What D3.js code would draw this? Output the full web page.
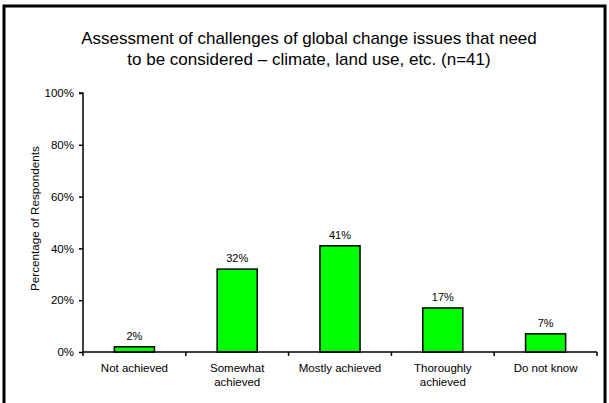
<!DOCTYPE html>
<html>
<head>
<meta charset="utf-8">
<script src="https://cdn.jsdelivr.net/npm/d3@7"></script>
<style>
  html, body { margin: 0; padding: 0; background: #fff; }
  svg { display: block; }
  text { font-family: "Liberation Sans", Arial, sans-serif; fill: #000; }
</style>
</head>
<body>
<svg id="chart" width="609" height="403"></svg>
<script>
// Survey responses, share of respondents per answer
const categories = [
  ["Not achieved"],
  ["Somewhat", "achieved"],
  ["Mostly achieved"],
  ["Thoroughly", "achieved"],
  ["Do not know"]
];
const values = [2, 32, 41, 17, 7];
const yTicks = [0, 20, 40, 60, 80, 100];
const titleLines = [
  "Assessment of challenges of global change issues that need",
  "to be considered \u2013 climate, land use, etc. (n=41)"
];
const yTitle = "Percentage of Respondents";

const svg = d3.select("#chart");
const W = 609, H = 403;
const margin = { left: 83, right: 12, top: 93, bottom: 51 };

// outer frame
svg.append("rect")
  .attr("x", 4).attr("y", 6)
  .attr("width", 601).attr("height", 402)
  .attr("fill", "none").attr("stroke", "#000").attr("stroke-width", 3);

const x = d3.scaleBand()
  .domain(d3.range(categories.length))
  .range([margin.left, W - margin.right])
  .paddingInner(0.61).paddingOuter(0.305);

const y = d3.scaleLinear()
  .domain([0, 100])
  .range([H - margin.bottom, margin.top]);

// title
svg.append("g").selectAll("text")
  .data(titleLines).join("text")
  .attr("x", 309).attr("y", (d, i) => 44 + i * 21)
  .attr("text-anchor", "middle")
  .attr("font-size", 17)
  .text(d => d);

// y axis
const yAxis = svg.append("g")
  .attr("transform", `translate(${margin.left},0)`)
  .call(d3.axisLeft(y).tickValues(yTicks).tickFormat(d => d + "%").tickSize(4).tickPadding(5));
yAxis.select(".domain").attr("stroke-width", 1.5).attr("d", `M-4,${y(100)}H0V${y(0)}`);
yAxis.selectAll(".tick line").attr("stroke-width", 1.5);
yAxis.selectAll(".tick text").attr("font-size", 11.5).attr("font-family", "Liberation Sans, Arial, sans-serif");

// y axis title
svg.append("text")
  .attr("transform", `translate(39,${(y(0) + y(100)) / 2 - 4}) rotate(-90)`)
  .attr("text-anchor", "middle")
  .attr("font-size", 11.7)
  .text(yTitle);

// bars
svg.append("g").selectAll("rect")
  .data(values).join("rect")
  .attr("x", (d, i) => x(i))
  .attr("y", d => y(d))
  .attr("width", x.bandwidth())
  .attr("height", d => y(0) - y(d))
  .attr("fill", "#00ff00")
  .attr("stroke", "#000")
  .attr("stroke-width", 1.5);

// value labels
svg.append("g").selectAll("text")
  .data(values).join("text")
  .attr("x", (d, i) => x(i) + x.bandwidth() / 2)
  .attr("y", d => y(d) - 7)
  .attr("text-anchor", "middle")
  .attr("font-size", 11)
  .text(d => d + "%");

// x axis with category boundary ticks
const step = x.step();
const bounds = d3.range(categories.length + 1).map(i => margin.left + i * step);
const xg = svg.append("g");
xg.append("line")
  .attr("x1", margin.left).attr("x2", W - margin.right)
  .attr("y1", y(0)).attr("y2", y(0))
  .attr("stroke", "#000").attr("stroke-width", 1.5);
xg.selectAll("line.tick")
  .data(bounds).join("line").attr("class", "tick")
  .attr("x1", d => d).attr("x2", d => d)
  .attr("y1", y(0)).attr("y2", y(0) + 4)
  .attr("stroke", "#000").attr("stroke-width", 1.5);

// category labels
const labels = xg.selectAll("text")
  .data(categories).join("text")
  .attr("text-anchor", "middle")
  .attr("font-size", 11.5);
labels.selectAll("tspan")
  .data((d, i) => d.map(t => ({ t, i })))
  .join("tspan")
  .attr("x", d => x(d.i) + x.bandwidth() / 2)
  .attr("y", (d, j) => y(0) + 20 + j * 14)
  .text(d => d.t);
</script>
</body>
</html>
